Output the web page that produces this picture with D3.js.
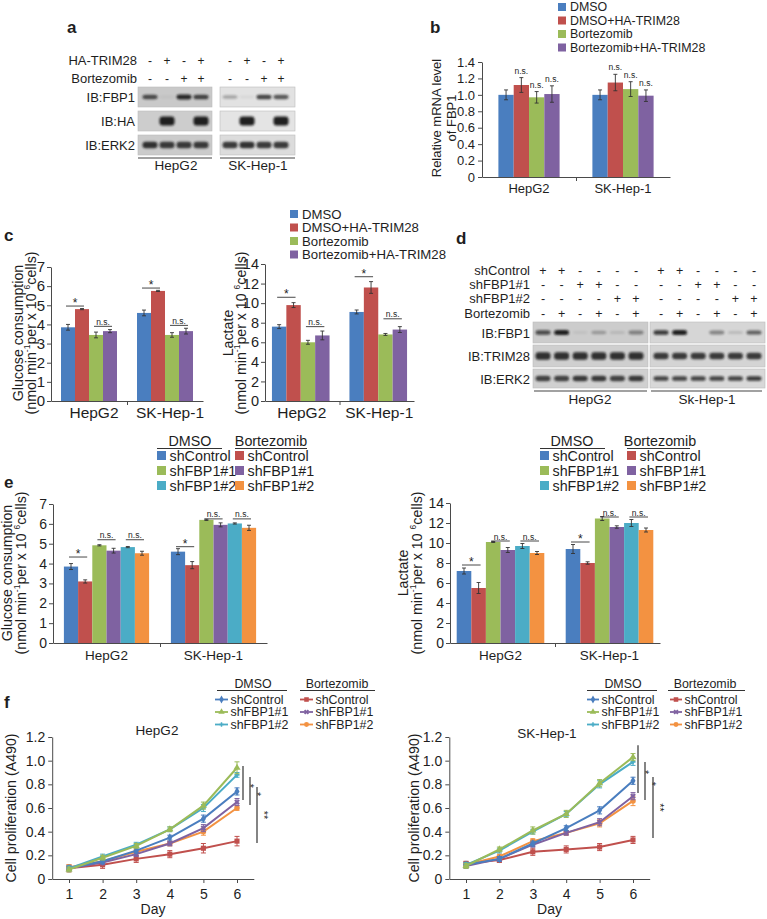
<!DOCTYPE html>
<html><head><meta charset="utf-8">
<script src="https://cdn.jsdelivr.net/npm/d3@7"></script>
<style>body{margin:0;background:#fff}svg{display:block}</style>
</head><body>
<script>
// ================= DATA =================
const cells = ["HepG2", "SK-Hep-1"];

// panel a (western blot)
const aTopLabels = ["HA-TRIM28", "Bortezomib"];
const aHA = ["-", "+", "-", "+"];
const aBort = ["-", "-", "+", "+"];
const aRows = ["IB:FBP1", "IB:HA", "IB:ERK2"];
const aBandsHepG2 = [[0.75, 0.04, 0.95, 0.8], [0, 1, 0, 1], [0.9, 0.85, 0.85, 0.85]];
const aBandsSK = [[0.3, 0.05, 0.8, 0.7], [0, 1, 0, 1], [0.85, 0.9, 0.85, 0.85]];

// panel b
const bSeries = ["DMSO", "DMSO+HA-TRIM28", "Bortezomib", "Bortezomib+HA-TRIM28"];
const bValues = [[1.00, 1.12, 0.97, 1.01], [1.00, 1.15, 1.07, 0.99]];
const bErrors = [[0.06, 0.09, 0.07, 0.10], [0.06, 0.10, 0.09, 0.07]];
const bTicks = [0, 0.2, 0.4, 0.6, 0.8, 1.0, 1.2, 1.4];
const bNS = [[0, 1], [0, 2], [0, 3], [1, 1], [1, 2], [1, 3]];

// panel c
const cGlucose = [[3.85, 4.80, 3.45, 3.65], [4.60, 5.75, 3.45, 3.65]];
const cGlucoseErr = [[0.15, 0.03, 0.15, 0.08], [0.15, 0.03, 0.12, 0.15]];
const cLactate = [[7.6, 9.8, 6.0, 6.7], [9.1, 11.6, 6.8, 7.3]];
const cLactateErr = [[0.2, 0.25, 0.2, 0.45], [0.2, 0.6, 0.1, 0.3]];
const cGlucoseTicks = [0, 1, 2, 3, 4, 5, 6, 7];
const cLactateTicks = [0, 2, 4, 6, 8, 10, 12, 14];
const cGlucoseSig = [[0, 0, 1, 4.96, "*"], [0, 2, 3, 3.9, "n.s."], [1, 0, 1, 5.9, "*"], [1, 2, 3, 3.95, "n.s."]];
const cLactateSig = [[0, 0, 1, 10.6, "*"], [0, 2, 3, 7.6, "n.s."], [1, 0, 1, 12.7, "*"], [1, 2, 3, 8.4, "n.s."]];

// panel d (western blot)
const dRowsTop = ["shControl", "shFBP1#1", "shFBP1#2", "Bortezomib"];
const dShControl = ["+", "+", "-", "-", "-", "-"];
const dShFBP1_1 = ["-", "-", "+", "+", "-", "-"];
const dShFBP1_2 = ["-", "-", "-", "-", "+", "+"];
const dBort = ["-", "+", "-", "+", "-", "+"];
const dRows = ["IB:FBP1", "IB:TRIM28", "IB:ERK2"];
const dCells = ["HepG2", "Sk-Hep-1"];
const dBandsHepG2 = [[0.75, 1.0, 0.06, 0.3, 0.12, 0.45], [0.9, 0.9, 0.9, 0.9, 0.9, 0.9], [0.8, 0.8, 0.85, 0.85, 0.8, 0.85]];
const dBandsSK = [[0.85, 1.0, 0.0, 0.45, 0.15, 0.65], [0.85, 0.85, 0.85, 0.85, 0.85, 0.85], [0.8, 0.8, 0.8, 0.8, 0.8, 0.85]];

// panel e
const eLegendDMSO = ["shControl", "shFBP1#1", "shFBP1#2"];
const eLegendBort = ["shControl", "shFBP1#1", "shFBP1#2"];
const eGlucose = [[3.85, 3.10, 4.92, 4.65, 4.83, 4.52], [4.60, 3.92, 6.20, 5.95, 6.02, 5.80]];
const eGlucoseErr = [[0.15, 0.08, 0.03, 0.12, 0.03, 0.10], [0.15, 0.18, 0.03, 0.10, 0.03, 0.13]];
const eLactate = [[7.2, 5.5, 10.1, 9.3, 9.7, 9.0], [9.4, 8.0, 12.45, 11.6, 12.0, 11.3]];
const eLactateErr = [[0.3, 0.55, 0.05, 0.25, 0.25, 0.15], [0.45, 0.12, 0.2, 0.12, 0.35, 0.2]];
const eGlucoseSig = [[0, 0, 1, 4.33, "*"], [0, 2, 3, 5.2, "n.s."], [0, 4, 5, 5.2, "n.s."], [1, 0, 1, 4.85, "*"], [1, 2, 3, 6.25, "n.s."], [1, 4, 5, 6.25, "n.s."]];
const eLactateSig = [[0, 0, 1, 7.8, "*"], [0, 2, 3, 10.2, "n.s."], [0, 4, 5, 10.2, "n.s."], [1, 0, 1, 10.1, "*"], [1, 2, 3, 12.6, "n.s."], [1, 4, 5, 12.6, "n.s."]];

// panel f
const fDays = [1, 2, 3, 4, 5, 6];
const fTicks = [0, 0.2, 0.4, 0.6, 0.8, 1.0, 1.2];
// order: DMSO shControl, DMSO shFBP1#1, DMSO shFBP1#2, Bort shControl, Bort shFBP1#1, Bort shFBP1#2
const fHepG2 = [
  [0.09, 0.15, 0.24, 0.35, 0.51, 0.74],
  [0.08, 0.18, 0.28, 0.42, 0.62, 0.94],
  [0.09, 0.19, 0.29, 0.42, 0.60, 0.88],
  [0.09, 0.12, 0.17, 0.21, 0.26, 0.32],
  [0.09, 0.14, 0.21, 0.30, 0.43, 0.65],
  [0.10, 0.15, 0.23, 0.30, 0.40, 0.60]];
const fHepG2Err = [
  [0.02, 0.02, 0.02, 0.02, 0.03, 0.03],
  [0.02, 0.02, 0.02, 0.02, 0.03, 0.05],
  [0.02, 0.02, 0.02, 0.02, 0.03, 0.02],
  [0.03, 0.03, 0.03, 0.03, 0.04, 0.04],
  [0.02, 0.02, 0.02, 0.02, 0.03, 0.03],
  [0.02, 0.02, 0.02, 0.02, 0.03, 0.02]];
const fSK = [
  [0.12, 0.17, 0.30, 0.43, 0.58, 0.83],
  [0.11, 0.25, 0.41, 0.55, 0.81, 1.03],
  [0.12, 0.24, 0.40, 0.55, 0.80, 0.99],
  [0.13, 0.16, 0.23, 0.25, 0.27, 0.33],
  [0.11, 0.17, 0.29, 0.39, 0.48, 0.70],
  [0.12, 0.19, 0.32, 0.39, 0.47, 0.66]];
const fSKErr = [
  [0.02, 0.02, 0.02, 0.02, 0.03, 0.03],
  [0.02, 0.02, 0.03, 0.03, 0.03, 0.03],
  [0.02, 0.02, 0.02, 0.02, 0.03, 0.03],
  [0.02, 0.02, 0.03, 0.03, 0.03, 0.03],
  [0.02, 0.02, 0.02, 0.02, 0.03, 0.03],
  [0.02, 0.02, 0.02, 0.02, 0.03, 0.04]];
// significance brackets [top value, bottom value, label]
const fHepG2Sig = [[0.955, 0.668, "*"], [0.862, 0.625, "*"], [0.778, 0.304, "**"]];
const fSKSig = [[1.13, 0.727, "*"], [0.989, 0.668, "*"], [0.862, 0.347, "**"]];

// ================= STYLE =================
const FONT = "'Liberation Sans', Arial, Helvetica, sans-serif";
const COL = {blue: "#4a7ebf", red: "#c0504d", green: "#9bbb59", purple: "#7f62a1", teal: "#4bacc6", orange: "#f39241"};
const TXT = "#1e1e1e";
const AX = "#4a4a4a";

const svg = d3.select("body").append("svg").attr("width", 767).attr("height", 919)
  .style("font-family", FONT);
svg.append("rect").attr("width", 767).attr("height", 919).attr("fill", "#fff");
const defs = svg.append("defs");
defs.append("filter").attr("id", "blur").attr("x", "-50%").attr("y", "-100%").attr("width", "200%").attr("height", "300%")
  .append("feGaussianBlur").attr("stdDeviation", 0.9);

function T(x, y, s, o = {}) {
  const t = svg.append("text").attr("x", x).attr("y", y).text(s)
    .style("font-size", (o.size || 13) + "px").attr("text-anchor", o.anchor || "start").attr("fill", o.fill || TXT);
  if (o.bold) t.style("font-weight", "bold");
  return t;
}
// rotated label with optional superscripts
function RT(x, y, parts, size) {
  const t = svg.append("text").attr("transform", `translate(${x + size * 0.35},${y}) rotate(-90)`)
    .attr("text-anchor", "middle").style("font-size", size + "px").attr("fill", TXT);
  let cur = 0;
  parts.forEach(p => {
    if (typeof p === "string") {
      t.append("tspan").text(p).attr("dy", -cur); cur = 0;
    } else {
      const sh = -size * 0.42;
      t.append("tspan").text(p.sup).attr("dy", sh - cur).style("font-size", (size * 0.6) + "px"); cur = sh;
    }
  });
  return t;
}
const unitsParts = ["(nmol min", {sup: "-1"}, "per x 10 ", {sup: "6"}, "cells)"];

// ================= PANEL LETTERS =================
T(67, 33, "a", {size: 17, bold: true});
T(430, 33, "b", {size: 17, bold: true});
T(4, 241, "c", {size: 17, bold: true});
T(456, 244, "d", {size: 17, bold: true});
T(4, 488, "e", {size: 17, bold: true});
T(4, 708, "f", {size: 17, bold: true});

// ================= BLOT helper =================
function blot(lanesX, boxX0, boxX1, rowsY, bands, bg, bandW, bandHs) {
  const g = svg.append("g");
  rowsY.forEach((r, ri) => {
    g.append("rect").attr("x", boxX0).attr("y", r[0]).attr("width", boxX1 - boxX0).attr("height", r[1] - r[0])
      .attr("fill", bg[ri]).attr("stroke", "#bdbdbd").attr("stroke-width", 0.6);
    const cy = (r[0] + r[1]) / 2;
    g.selectAll(null).data(bands[ri]).join("rect")
      .attr("x", (d, i) => lanesX(i) - bandW / 2).attr("width", bandW)
      .attr("y", d => cy - bandHs[ri] * (0.55 + 0.45 * d) / 2)
      .attr("height", d => bandHs[ri] * (0.55 + 0.45 * d))
      .attr("rx", 3).attr("fill", "#151515").attr("opacity", d => d * 0.95)
      .attr("filter", "url(#blur)");
  });
  return g;
}

// ================= PANEL A =================
{
  const lanesH = d3.scalePoint().domain(d3.range(4)).range([150, 201]);
  const lanesS = d3.scalePoint().domain(d3.range(4)).range([230, 281]);
  const rowsY = [[87, 107], [111, 131], [135, 155]];
  T(137, 65, aTopLabels[0], {size: 13, anchor: "end"});
  T(137, 83, aTopLabels[1], {size: 13, anchor: "end"});
  [lanesH, lanesS].forEach(L => {
    aHA.forEach((s, i) => T(L(i), 65, s, {size: 12, anchor: "middle"}));
    aBort.forEach((s, i) => T(L(i), 83, s, {size: 12, anchor: "middle"}));
  });
  aRows.forEach((r, i) => T(135, (rowsY[i][0] + rowsY[i][1]) / 2 + 5, r, {size: 13, anchor: "end"}));
  blot(lanesH, 138, 212, rowsY, aBandsHepG2, ["#c9c9c9", "#cdcdcd", "#cbcbcb"], 15, [5, 9, 7]);
  blot(lanesS, 220, 295, rowsY, aBandsSK, ["#e2e2e2", "#e4e4e4", "#dcdcdc"], 15, [5, 9, 7]);
  svg.append("line").attr("x1", 138).attr("x2", 212).attr("y1", 158).attr("y2", 158).attr("stroke", "#444").attr("stroke-width", 1.2);
  svg.append("line").attr("x1", 220).attr("x2", 295).attr("y1", 158).attr("y2", 158).attr("stroke", "#444").attr("stroke-width", 1.2);
  T(176, 170, cells[0], {size: 13.5, anchor: "middle"});
  T(258, 170, cells[1], {size: 13.5, anchor: "middle"});
}

// ================= BAR CHART helper =================
function barChart(p) {
  const g = svg.append("g");
  const n = p.colors.length;
  const y = d3.scaleLinear().domain([0, p.max]).range([p.yB, p.yT]);
  const x0 = d3.scaleBand().domain(cells).range([p.xL, p.xR]);
  const x1 = d3.scaleBand().domain(d3.range(n)).range([0, p.barW * n]);
  const off = gi => (x0.bandwidth() - p.barW * n) / 2 + (p.shift ? p.shift[gi] : 0);
  const bx = (gi, si) => x0(cells[gi]) + off(gi) + x1(si);
  const cx = (gi, si) => bx(gi, si) + p.barW / 2;

  const ya = g.append("g").attr("transform", `translate(${p.xL},0)`)
    .call(d3.axisLeft(y).tickValues(p.ticks).tickFormat(p.fmt).tickSize(4).tickSizeOuter(0).tickPadding(p.pad || 3));
  ya.attr("font-family", FONT).attr("font-size", p.tickFont);
  ya.selectAll("text").attr("fill", TXT);
  ya.selectAll("line,path").attr("stroke", AX);

  const xl = d3.scaleLinear().domain([0, cells.length]).range([p.xL, p.xR]);
  const xa = g.append("g").attr("transform", `translate(0,${p.yB})`)
    .call(d3.axisBottom(xl).tickValues(d3.range(1, cells.length)).tickFormat("").tickSize(4).tickSizeOuter(0));
  xa.selectAll("line,path").attr("stroke", AX);

  const recs = [];
  p.values.forEach((row, gi) => row.forEach((v, si) => recs.push({gi, si, v, e: p.errors[gi][si]})));
  g.selectAll("rect.bar").data(recs).join("rect").attr("class", "bar")
    .attr("x", d => bx(d.gi, d.si)).attr("width", p.barW)
    .attr("y", d => y(d.v)).attr("height", d => y(0) - y(d.v))
    .attr("fill", d => p.colors[d.si]);
  const eb = g.selectAll("g.err").data(recs).join("g").attr("class", "err").attr("stroke", "#333").attr("stroke-width", 0.9);
  eb.append("line").attr("x1", d => cx(d.gi, d.si)).attr("x2", d => cx(d.gi, d.si))
    .attr("y1", d => y(d.v - d.e)).attr("y2", d => y(d.v + d.e));
  eb.append("line").attr("x1", d => cx(d.gi, d.si) - 2).attr("x2", d => cx(d.gi, d.si) + 2)
    .attr("y1", d => y(d.v - d.e)).attr("y2", d => y(d.v - d.e));
  eb.append("line").attr("x1", d => cx(d.gi, d.si) - 2).attr("x2", d => cx(d.gi, d.si) + 2)
    .attr("y1", d => y(d.v + d.e)).attr("y2", d => y(d.v + d.e));

  (p.sig || []).forEach(([gi, i, j, v, lab]) => {
    const xa_ = cx(gi, i) - 2, xb_ = cx(gi, j) + 2;
    g.append("line").attr("x1", xa_).attr("x2", xb_).attr("y1", y(v)).attr("y2", y(v)).attr("stroke", "#333").attr("stroke-width", 0.9);
    g.append("text").attr("x", (xa_ + xb_) / 2).attr("y", lab === "*" ? y(v) + 1 : y(v) - 1.5)
      .attr("text-anchor", "middle").style("font-size", lab === "*" ? "12px" : "8.5px").attr("fill", TXT).text(lab);
  });
  (p.nsAbove || []).forEach(([gi, si]) => {
    const v = p.values[gi][si] + p.errors[gi][si];
    g.append("text").attr("x", cx(gi, si)).attr("y", y(v) - 4).attr("text-anchor", "middle")
      .style("font-size", "8.5px").attr("fill", TXT).text("n.s.");
  });
  cells.forEach((c, gi) => {
    g.append("text").attr("x", bx(gi, 0) + p.barW * n / 2 + (p.labShift || 0)).attr("y", p.labY)
      .attr("text-anchor", "middle").style("font-size", p.labFont + "px").attr("fill", TXT).text(c);
  });
  return g;
}
const fmt1 = d => d === 0 ? "0" : d3.format(".1f")(d);
const fmtInt = d3.format("d");

// square legend
function squareLegend(x, ys, names, colors, size, fs) {
  names.forEach((nm, i) => {
    svg.append("rect").attr("x", x).attr("y", ys[i] - size / 2).attr("width", size).attr("height", size).attr("fill", colors[i]);
    T(x + size + 4, ys[i] + fs * 0.36, nm, {size: fs});
  });
}

// ================= PANEL B =================
const fourCols = [COL.blue, COL.red, COL.green, COL.purple];
squareLegend(558, [7, 20.5, 34, 47.5], bSeries, fourCols, 8, 12.4);
barChart({xL: 482, xR: 670, yB: 177, yT: 62, max: 1.4, ticks: bTicks, fmt: fmt1, tickFont: 13,
  barW: 15.3, colors: fourCols, values: bValues, errors: bErrors, nsAbove: bNS, labY: 193, labFont: 13});
RT(436, 118, ["Relative mRNA level"], 13);
RT(451, 118, ["of FBP1"], 13);

// ================= PANEL C =================
squareLegend(290, [214, 227.5, 241, 254.5], bSeries, fourCols, 8, 13.2);
barChart({xL: 51, xR: 203, yB: 401, yT: 267, max: 7, ticks: cGlucoseTicks, fmt: fmtInt, tickFont: 15, pad: 2,
  barW: 14, colors: fourCols, values: cGlucose, errors: cGlucoseErr, sig: cGlucoseSig, labY: 418, labFont: 15.5, labShift: 5});
RT(18, 333, ["Glucose consumption"], 14.2);
RT(31, 333, unitsParts, 14.2);
barChart({xL: 265, xR: 414, yB: 401, yT: 264, max: 14, ticks: cLactateTicks, fmt: fmtInt, tickFont: 14.5, pad: 2,
  barW: 14.4, colors: fourCols, values: cLactate, errors: cLactateErr, sig: cLactateSig, shift: [-1.5, 1.5], labY: 418, labFont: 15.5, labShift: 1});
RT(228, 333, ["Lactate"], 14.2);
RT(241, 333, unitsParts, 14.2);

// ================= PANEL D =================
{
  const lanesH = d3.scalePoint().domain(d3.range(6)).range([543, 636]);
  const lanesS = d3.scalePoint().domain(d3.range(6)).range([661, 754]);
  const rowsY = [[322, 343], [345, 367], [369, 388]];
  const signRows = [dShControl, dShFBP1_1, dShFBP1_2, dBort];
  const signY = [270, 284, 298, 313];
  dRowsTop.forEach((r, i) => T(530, signY[i] + 5, r, {size: 13, anchor: "end"}));
  signRows.forEach((row, ri) => [lanesH, lanesS].forEach(L =>
    row.forEach((s, i) => T(L(i), signY[ri] + 5, s, {size: 12.5, anchor: "middle"}))));
  dRows.forEach((r, i) => T(530, (rowsY[i][0] + rowsY[i][1]) / 2 + 5, r, {size: 13, anchor: "end"}));
  blot(lanesH, 533, 648, rowsY, dBandsHepG2, ["#cccccc", "#cfcfcf", "#d0d0d0"], 15, [5, 8, 6]);
  blot(lanesS, 650, 765, rowsY, dBandsSK, ["#d6d6d6", "#d4d4d4", "#d8d8d8"], 15, [5, 7, 5]);
  svg.append("line").attr("x1", 534).attr("x2", 647).attr("y1", 391).attr("y2", 391).attr("stroke", "#444").attr("stroke-width", 1.2);
  svg.append("line").attr("x1", 651).attr("x2", 762).attr("y1", 391).attr("y2", 391).attr("stroke", "#444").attr("stroke-width", 1.2);
  T(590, 404, dCells[0], {size: 13.5, anchor: "middle"});
  T(707, 404, dCells[1], {size: 13.5, anchor: "middle"});
}

// ================= PANEL E =================
const sixCols = [COL.blue, COL.red, COL.green, COL.purple, COL.teal, COL.orange];
// marker shapes for f
const fSym = [d3.symbolDiamond, d3.symbolTriangle, d3.symbolCross, d3.symbolSquare, d3.symbolCross, d3.symbolCircle];
const fSymSize = [22, 22, 14, 26, 20, 24];
const fSymRot = [0, 0, 0, 0, 45, 0];
function drawMarker(sel, x, y, idx, color, scale = 1) {
  sel.append("path").attr("d", d3.symbol().type(fSym[idx]).size(fSymSize[idx] * scale)())
    .attr("transform", `translate(${x},${y}) rotate(${fSymRot[idx]})`).attr("fill", color);
}
function headerLegend(xh1, xh2, yHead, uDMSO, uBort, xSq1, xSq2, ys, size, fs, colsD, colsB, lineMode) {
  T(xh1, yHead, "DMSO", {size: fs, anchor: "middle"});
  T(xh2, yHead, "Bortezomib", {size: fs, anchor: "middle"});
  svg.append("line").attr("x1", uDMSO[0]).attr("x2", uDMSO[1]).attr("y1", yHead + 2.5).attr("y2", yHead + 2.5).attr("stroke", "#333");
  svg.append("line").attr("x1", uBort[0]).attr("x2", uBort[1]).attr("y1", yHead + 2.5).attr("y2", yHead + 2.5).attr("stroke", "#333");
  [[xSq1, eLegendDMSO, colsD, 0], [xSq2, eLegendBort, colsB, 3]].forEach(([xs, names, cols, mo]) => {
    names.forEach((nm, i) => {
      if (!lineMode) {
        svg.append("rect").attr("x", xs).attr("y", ys[i] - size / 2).attr("width", size).attr("height", size).attr("fill", cols[i]);
        T(xs + size + 3.5, ys[i] + fs * 0.36, nm, {size: fs});
      } else {
        svg.append("line").attr("x1", xs).attr("x2", xs + size).attr("y1", ys[i]).attr("y2", ys[i]).attr("stroke", cols[i]).attr("stroke-width", 1.8);
        drawMarker(svg, xs + size / 2, ys[i], mo + i, cols[i], 0.8);
        T(xs + size + 2.5, ys[i] + fs * 0.36, nm, {size: fs});
      }
    });
  });
}

headerLegend(190, 271, 446, [157, 222], [235, 307], 157, 235, [455.5, 470.5, 485.5], 9, 14.3,
  [COL.blue, COL.green, COL.teal], [COL.red, COL.purple, COL.orange], false);
barChart({xL: 53, xR: 267, yB: 643, yT: 504, max: 7, ticks: cGlucoseTicks, fmt: fmtInt, tickFont: 14, pad: 2,
  barW: 14.2, colors: sixCols, values: eGlucose, errors: eGlucoseErr, sig: eGlucoseSig, labY: 660, labFont: 13.5});
RT(7, 573, ["Glucose consumption"], 14.2);
RT(21, 573, unitsParts, 14.2);

headerLegend(572, 660, 446, [540, 605], [627, 690], 540, 627, [455.5, 470.5, 485.5], 9, 14.3,
  [COL.blue, COL.green, COL.teal], [COL.red, COL.purple, COL.orange], false);
barChart({xL: 450, xR: 660, yB: 643, yT: 503, max: 14, ticks: cLactateTicks, fmt: fmtInt, tickFont: 14, pad: 2,
  barW: 14.6, colors: sixCols, values: eLactate, errors: eLactateErr, sig: eLactateSig, shift: [-2, 2], labY: 660, labFont: 13.5});
RT(403, 573, ["Lactate"], 14.2);
RT(417, 573, unitsParts, 14.2);

// ================= PANEL F =================
const fCols = [COL.blue, COL.green, COL.teal, COL.red, COL.purple, COL.orange];
const drawOrder = [3, 5, 4, 0, 2, 1];
function lineChart(p) {
  const g = svg.append("g");
  const y = d3.scaleLinear().domain([0, 1.2]).range([p.yB, p.yT]);
  const x = d3.scaleLinear().domain([1, 6]).range([p.xD1, p.xD6]);
  const ya = g.append("g").attr("transform", `translate(${x(0.5)},0)`)
    .call(d3.axisLeft(y).tickValues(fTicks).tickFormat(fmt1).tickSize(4).tickSizeOuter(0).tickPadding(3));
  ya.attr("font-family", FONT).attr("font-size", 14);
  ya.selectAll("text").attr("fill", TXT);
  ya.selectAll("line,path").attr("stroke", AX);
  const xb = d3.scaleLinear().domain([0.5, 6.5]).range([x(0.5), x(6.5)]);
  const xa = g.append("g").attr("transform", `translate(0,${p.yB})`)
    .call(d3.axisBottom(xb).tickValues(fDays).tickFormat(fmtInt).tickSize(4).tickSizeOuter(0).tickPadding(6));
  xa.attr("font-family", FONT).attr("font-size", 14);
  xa.selectAll("text").attr("fill", TXT);
  xa.selectAll("line,path").attr("stroke", AX);
  const line = d3.line().x((d, i) => x(fDays[i])).y(d => y(d));
  drawOrder.forEach(si => {
    const s = g.append("g");
    const vals = p.data[si], errs = p.err[si];
    s.append("path").attr("d", line(vals)).attr("fill", "none").attr("stroke", fCols[si]).attr("stroke-width", 2);
    vals.forEach((v, i) => {
      const xx = x(fDays[i]);
      s.append("line").attr("x1", xx).attr("x2", xx).attr("y1", y(v - errs[i])).attr("y2", y(v + errs[i])).attr("stroke", fCols[si]).attr("stroke-width", 1);
      [v - errs[i], v + errs[i]].forEach(e => s.append("line").attr("x1", xx - 2.5).attr("x2", xx + 2.5).attr("y1", y(e)).attr("y2", y(e)).attr("stroke", fCols[si]).attr("stroke-width", 1));
      drawMarker(s, xx, y(v), si, fCols[si]);
    });
  });
  p.sig.forEach(([a, b, lab], k) => {
    const xx = x(6) + p.sigOff[k];
    g.append("line").attr("x1", xx).attr("x2", xx).attr("y1", y(a)).attr("y2", y(b)).attr("stroke", "#333").attr("stroke-width", 1.2);
    const ly = y((a + b) / 2) + (k === 2 ? 0 : 3);
    g.append("text").attr("transform", `translate(${xx + 3},${ly}) rotate(90)`).attr("text-anchor", "middle")
      .style("font-size", "11px").attr("fill", TXT).text(lab);
  });
  g.append("text").attr("x", p.titleX).attr("y", p.titleY).attr("text-anchor", "middle").style("font-size", "13.5px").attr("fill", TXT).text(p.title);
  g.append("text").attr("x", (x(0.5) + x(6.5)) / 2).attr("y", 914).attr("text-anchor", "middle").style("font-size", "14px").attr("fill", TXT).text("Day");
}
headerLegend(253, 337, 688, [217, 287], [300, 375], 215, 300, [699.5, 712, 724.5], 13, 12.4,
  [COL.blue, COL.green, COL.teal], [COL.red, COL.purple, COL.orange], true);
lineChart({xD1: 69, xD6: 237, yB: 879, yT: 737, data: fHepG2, err: fHepG2Err, sig: fHepG2Sig, sigOff: [6, 13, 20],
  title: cells[0], titleX: 157, titleY: 735});
RT(11, 808, ["Cell proliferation (A490)"], 14.2);

headerLegend(623, 705, 688, [587, 657], [668, 745], 587, 670, [699.5, 712, 724.5], 12, 12.4,
  [COL.blue, COL.green, COL.teal], [COL.red, COL.purple, COL.orange], true);
lineChart({xD1: 466, xD6: 633, yB: 879, yT: 737, data: fSK, err: fSKErr, sig: fSKSig, sigOff: [5, 12, 20],
  title: cells[1], titleX: 547, titleY: 738});
RT(414, 808, ["Cell proliferation (A490)"], 14.2);
</script>
</body></html>
